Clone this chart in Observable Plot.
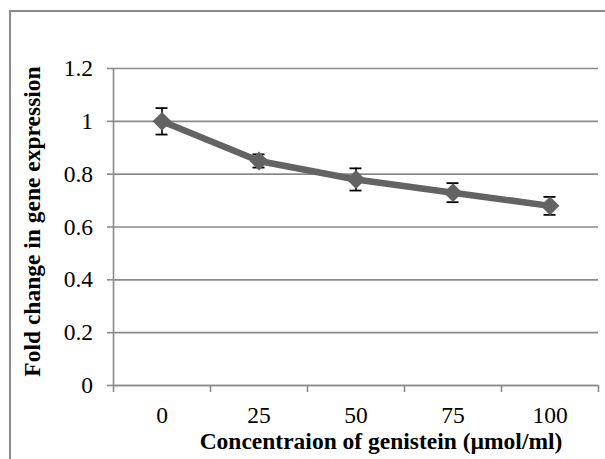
<!DOCTYPE html>
<html><head><meta charset="utf-8">
<script src="https://cdn.jsdelivr.net/npm/d3@7"></script>
<script src="https://cdn.jsdelivr.net/npm/@observablehq/plot@0.6"></script>
<style>
body{margin:0;background:#fff;}
#wrap{position:relative;width:605px;height:459px;overflow:hidden;background:#fff;}
#border{position:absolute;left:9px;top:10px;width:700px;height:600px;border:2px solid #8a8a8a;box-sizing:border-box;}
#chart{position:absolute;left:0;top:0;}
</style></head>
<body><div id="wrap"><div id="border"></div><div id="chart"></div></div>
<script>
const concentrations = [0, 25, 50, 75, 100];
const foldChange = [1.0, 0.85, 0.78, 0.73, 0.68];
const errors = [0.05, 0.025, 0.042, 0.036, 0.034];
const yTicks = [0, 0.2, 0.4, 0.6, 0.8, 1.0, 1.2];
const yTickLabels = ["0", "0.2", "0.4", "0.6", "0.8", "1", "1.2"];
const xTickLabels = ["0", "25", "50", "75", "100"];
const xTitle = "Concentraion of genistein (µmol/ml)";
const yTitle = "Fold change in gene expression";

const step = 25;
const data = concentrations.map((c, i) => ({x: c, y: foldChange[i], lo: foldChange[i] - errors[i], hi: foldChange[i] + errors[i]}));
const bounds = [...concentrations.map(c => c - step / 2), concentrations[concentrations.length - 1] + step / 2];

const font = "'Liberation Serif', 'Times New Roman', serif";
const grey = "#8a8a8a";
const lineCol = "#636363";

const chart = Plot.plot({
  width: 605, height: 459,
  marginLeft: 113, marginRight: 7, marginTop: 68, marginBottom: 74,
  style: {fontFamily: font, fontSize: "23.5px", color: "#000", background: "transparent", overflow: "visible"},
  x: {domain: [bounds[0], bounds[bounds.length - 1]], axis: null},
  y: {domain: [0, 1.2], axis: null},
  marks: [
    Plot.gridY(yTicks, {stroke: grey, strokeOpacity: 1, strokeWidth: 1.6}),
    Plot.ruleY(yTicks, {x1: bounds[0], x2: bounds[0], insetLeft: -6, stroke: grey, strokeWidth: 1.6}),
    Plot.ruleX([bounds[0]], {y1: 0, y2: 1.2, stroke: grey, strokeWidth: 1.6}),
    Plot.ruleY([0], {stroke: grey, strokeWidth: 1.6}),
    Plot.ruleX(bounds, {x: d => d, y1: 0, y2: 0, insetBottom: -7, stroke: grey, strokeWidth: 1.6}),
    Plot.text(yTicks, {x: bounds[0], y: d => d, text: (d, i) => yTickLabels[i], textAnchor: "end", lineAnchor: "middle", dx: -20.5, fontFamily: font, fontSize: 23.5, fill: "#000"}),
    Plot.text(concentrations, {x: d => d, frameAnchor: "bottom", text: (d, i) => xTickLabels[i], lineAnchor: "middle", dy: 29.5, fontFamily: font, fontSize: 23.5, fill: "#000"}),
    Plot.text([yTitle], {frameAnchor: "left", textAnchor: "middle", lineAnchor: "middle", rotate: -90, dx: -81, dy: -5.5, fontWeight: "bold", fontSize: 23.5}),
    Plot.text([xTitle], {frameAnchor: "bottom", lineAnchor: "middle", dx: 25, dy: 56, fontWeight: "bold", fontSize: 23.5}),
    Plot.ruleX(data, {x: "x", y1: "lo", y2: "hi", stroke: "#000", strokeWidth: 1.6}),
    Plot.ruleY(data, {y: "lo", x1: "x", x2: "x", insetLeft: -6, insetRight: -6, stroke: "#000", strokeWidth: 1.8}),
    Plot.ruleY(data, {y: "hi", x1: "x", x2: "x", insetLeft: -6, insetRight: -6, stroke: "#000", strokeWidth: 1.8}),
    Plot.line(data, {x: "x", y: "y", stroke: lineCol, strokeWidth: 6.5}),
    Plot.dot(data, {x: "x", y: "y", symbol: "diamond2", r: 8.5, fill: lineCol, stroke: "none"})
  ]
});
document.getElementById("chart").appendChild(chart);
</script></body></html>
